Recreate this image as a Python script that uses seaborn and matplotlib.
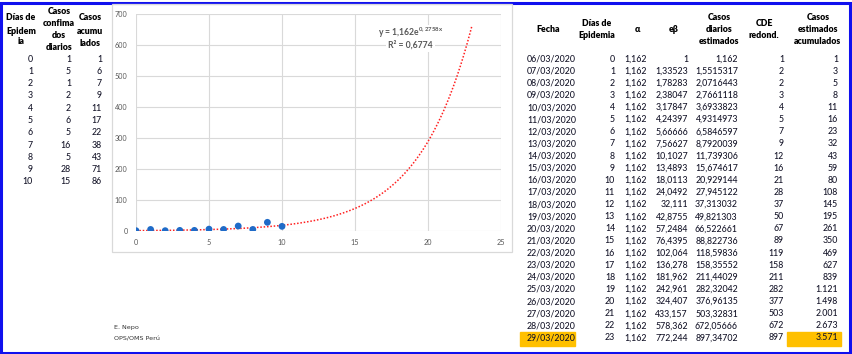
import numpy as np
import pandas as pd
import seaborn as sns
import matplotlib.pyplot as plt
from matplotlib.patches import Rectangle

# ---------------- datos ----------------
dias = [0, 1, 2, 3, 4, 5, 6, 7, 8, 9, 10]
casos_diarios = [1, 5, 1, 2, 2, 6, 5, 16, 5, 28, 15]
casos_acum = [1, 6, 7, 9, 11, 17, 22, 38, 43, 71, 86]

fechas = ['06/03/2020', '07/03/2020', '08/03/2020', '09/03/2020', '10/03/2020',
          '11/03/2020', '12/03/2020', '13/03/2020', '14/03/2020', '15/03/2020',
          '16/03/2020', '17/03/2020', '18/03/2020', '19/03/2020', '20/03/2020',
          '21/03/2020', '22/03/2020', '23/03/2020', '24/03/2020', '25/03/2020',
          '26/03/2020', '27/03/2020', '28/03/2020', '29/03/2020']
dias_est = [str(i) for i in range(24)]
alfa = ['1,162'] * 24
e_beta = ['1', '1,33523', '1,78283', '2,38047', '3,17847', '4,24397', '5,66666',
          '7,56627', '10,1027', '13,4893', '18,0113', '24,0492', '32,111', '42,8755',
          '57,2484', '76,4395', '102,064', '136,278', '181,962', '242,961', '324,407',
          '433,157', '578,362', '772,244']
casos_est = ['1,162', '1,5515317', '2,0716443', '2,7661118', '3,6933823', '4,9314973',
             '6,5846597', '8,7920039', '11,739306', '15,674617', '20,929144', '27,945122',
             '37,313032', '49,821303', '66,522661', '88,822736', '118,59836', '158,35552',
             '211,44029', '282,32042', '376,96135', '503,32831', '672,05666', '897,34702']
cde = ['1', '2', '2', '3', '4', '5', '7', '9', '12', '16', '21', '28', '37', '50',
       '67', '89', '119', '158', '211', '282', '377', '503', '672', '897']
acum_est = ['1', '3', '5', '8', '11', '16', '23', '32', '43', '59', '80', '108', '145',
            '195', '261', '350', '469', '627', '839', '1.121', '1.498', '2.001',
            '2.673', '3.571']

W, H = 853, 354

sns.set_style('white')
plt.rcParams['font.family'] = ['Lato', 'DejaVu Sans']
plt.rcParams['mathtext.fontset'] = 'custom'
plt.rcParams['mathtext.rm'] = 'Lato:bold'
plt.rcParams['mathtext.it'] = 'Lato:bold'

fig = plt.figure(figsize=(W / 100, H / 100), dpi=100)


def px(x, y):
    return x / W, 1 - y / H


def txt(x, y, s, ha='right', bold=False, size=6.3, color='#141428'):
    fig.text(*px(x, y), s, ha=ha, va='center', fontsize=size,
             fontweight='heavy' if bold else 'medium',
             color='#000000' if bold else color)


# borde azul
fig.patches.append(Rectangle((1 / W, 1 / H), (W - 4) / W, (H - 3.5) / H,
                             transform=fig.transFigure, fill=False,
                             edgecolor='#1010EE', linewidth=2.2))

# ---------------- tabla izquierda ----------------
for s, y in [('Días de', 17), ('Epidem', 31), ('ia', 42)]:
    txt(21, y, s, ha='center', bold=True)
for s, y in [('Casos', 11), ('confima', 24), ('dos', 36), ('diarios', 48)]:
    txt(59, y, s, ha='center', bold=True)
for s, y in [('Casos', 17), ('acumu', 31), ('lados', 43)]:
    txt(90, y, s, ha='center', bold=True)
for i in range(len(dias)):
    y = 59 + i * 12.3
    txt(33, y, str(dias[i]))
    txt(71, y, str(casos_diarios[i]))
    txt(102, y, str(casos_acum[i]))

# ---------------- grafico ----------------
fig.patches.append(Rectangle(px(112, 252), 400 / W, 248 / H,
                             transform=fig.transFigure, fill=False,
                             edgecolor='#D9D9D9', linewidth=0.9))

ax = fig.add_axes([136 / W, 1 - 231 / H, 365 / W, 217 / H])

df = pd.DataFrame({'dias': dias, 'casos': casos_diarios})
b, ln_a = np.polyfit(df['dias'], np.log(df['casos']), 1)
xs = np.linspace(0, 23, 300)
trend = pd.DataFrame({'x': xs, 'y': np.exp(ln_a) * np.exp(b * xs)})

sns.lineplot(data=trend, x='x', y='y', ax=ax, color='#FF2020',
             linestyle=(0, (1, 1.2)), linewidth=1.1, zorder=2)
sns.scatterplot(data=df, x='dias', y='casos', ax=ax, color='#1F6BC8',
                s=24, edgecolor='none', zorder=3)

ax.set_xlim(0, 25)
ax.set_ylim(0, 700)
ax.set_xticks(range(0, 26, 5))
ax.set_yticks(range(0, 701, 100))
ax.grid(True, color='#D9D9D9', linewidth=0.8)
ax.set_axisbelow(True)
for sp in ax.spines.values():
    sp.set_visible(False)
ax.tick_params(axis='both', length=0, labelsize=5.2, labelcolor='#595959', pad=6)
ax.set_xlabel('')
ax.set_ylabel('')

ax.text(18.8, 640, 'y = 1,162e$^{0,2758x}$', ha='center', va='center',
        fontsize=6.2, color='#595959', fontweight='bold',
        bbox=dict(facecolor='white', edgecolor='none', pad=0.6))
ax.text(18.8, 600, 'R² = 0,6774', ha='center', va='center',
        fontsize=6.2, color='#595959', fontweight='bold',
        bbox=dict(facecolor='white', edgecolor='none', pad=1.8))

fig.text(*px(114, 328), 'E. Nepo', ha='left', va='center', fontsize=4.6,
         color='#333333', family=['Liberation Sans Narrow', 'DejaVu Sans'])
fig.text(*px(114, 339), 'OPS/OMS Perú', ha='left', va='center', fontsize=4.6,
         color='#333333', family=['Liberation Sans Narrow', 'DejaVu Sans'])

# ---------------- tabla derecha ----------------
fig.patches.append(Rectangle(px(520, 346), 55 / W, 14 / H,
                             transform=fig.transFigure, color='#FFC000', zorder=0))
fig.patches.append(Rectangle(px(787, 346), 54 / W, 14 / H,
                             transform=fig.transFigure, color='#FFC000', zorder=0))

txt(548, 30, 'Fecha', ha='center', bold=True)
txt(597, 24, 'Días de', ha='center', bold=True)
txt(597, 36, 'Epidemia', ha='center', bold=True)
txt(637, 30, 'α', ha='center', bold=True)
txt(674, 30, 'eβ', ha='center', bold=True)
for s, y in [('Casos', 18), ('diarios', 30), ('estimados', 42)]:
    txt(719, y, s, ha='center', bold=True)
txt(764, 24, 'CDE', ha='center', bold=True)
txt(764, 36, 'redond.', ha='center', bold=True)
for s, y in [('Casos', 18), ('estimados', 30), ('acumulados', 42)]:
    txt(818, y, s, ha='center', bold=True)

for i in range(len(fechas)):
    y = 59 + i * 12.13
    txt(527, y, fechas[i], ha='left')
    txt(615, y, dias_est[i])
    txt(647, y, alfa[i])
    txt(688, y, e_beta[i])
    txt(738, y, casos_est[i])
    txt(784, y, cde[i])
    txt(838, y, acum_est[i])

fig.savefig('out.png', dpi=100)
